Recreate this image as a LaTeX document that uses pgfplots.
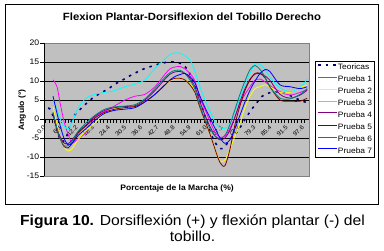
\documentclass[border=0pt]{standalone}
\usepackage{pgfplots}
\pgfplotsset{compat=1.18}
\usepackage{pgfplotstable}
\usepackage{fontspec}
\setmainfont{Liberation Sans}[FakeStretch=1.08]
\definecolor{plotgray}{RGB}{192,192,192}
\definecolor{navyc}{RGB}{0,0,128}
\definecolor{pmag}{RGB}{255,0,255}
\definecolor{pyel}{RGB}{255,255,0}
\definecolor{pcya}{RGB}{0,255,255}
\definecolor{ppur}{RGB}{128,0,128}
\definecolor{pred}{RGB}{128,0,0}
\definecolor{ptea}{RGB}{0,128,128}
\definecolor{pblu}{RGB}{0,0,255}

\pgfplotstableread{
x y
0.9 2.8
1.7 2.6
3.2 0.0
4.7 -4.0
6.2 -6.0
7.7 -5.0
8.8 -2.5
10.0 0.0
11.5 1.5
13.0 2.5
16.0 4.5
17.9 5.6
21.2 7.0
23.6 7.9
26.2 9.2
28.7 10.1
31.1 11.1
34.4 12.3
36.8 13.1
40.1 13.9
42.5 14.4
46.2 15.0
48.9 15.0
51.4 14.5
53.8 12.8
56.4 8.8
59.0 3.3
61.0 -1.0
62.8 -4.5
65.1 -7.3
67.0 -7.8
68.9 -6.1
70.4 -4.8
72.2 -3.5
73.4 -2.3
75.3 -0.1
76.5 1.2
78.3 3.0
79.7 4.2
81.6 5.9
84.1 6.8
86.6 7.2
89.2 7.0
92.3 6.2
95.3 5.2
98.6 4.3
}\teo

\pgfplotstableread{
x p1 p2 p3 p4 p5 p6 p7
2.8 10.3 3.3 5.2 1.5 1.2 1.8 6.0
4.3 8.5 -1.5 2.5 -2.5 -3.0 -2.5 1.5
5.4 4.5 -4.5 0.3 -4.5 -5.0 -5.0 -1.5
6.9 -0.5 -7.3 -1.8 -6.3 -7.2 -7.0 -5.0
8.5 -4.0 -8.4 -2.6 -6.5 -7.6 -7.0 -6.8
10.0 -6.3 -7.8 -0.8 -5.5 -6.4 -5.8 -6.4
12.2 -5.2 -5.5 2.8 -3.5 -3.8 -3.3 -4.4
15.3 -3.5 -3.0 5.5 -1.5 -1.8 -1.0 -2.5
18.7 0.5 -1.0 6.5 0.8 0.3 1.0 -0.3
22.4 2.0 1.5 7.0 2.3 1.8 2.6 1.5
26.2 3.5 2.8 7.5 3.0 2.6 3.2 2.3
30.0 5.0 3.0 8.5 3.3 3.0 3.4 2.6
33.8 6.0 3.5 9.2 3.5 3.3 3.8 3.0
37.5 6.5 4.5 10.3 5.0 4.5 5.3 4.5
41.3 8.5 6.5 13.3 7.5 6.5 8.0 6.5
45.1 11.8 9.0 15.8 10.5 9.0 11.0 9.0
47.0 13.2 10.0 17.0 11.8 10.2 12.2 10.3
48.9 13.7 10.6 17.4 12.4 10.7 12.8 11.2
50.8 13.8 10.7 17.3 12.5 10.7 12.8 11.7
52.6 13.2 10.3 16.6 12.0 10.3 12.0 12.0
54.5 12.0 9.2 15.5 10.8 9.0 10.3 11.2
56.4 10.0 7.5 12.5 8.5 7.0 7.8 9.5
58.3 5.5 3.0 8.5 4.5 3.0 3.5 6.0
60.2 2.5 -0.5 5.0 1.0 -0.5 0.0 3.0
62.1 -0.7 -4.0 2.0 -2.0 -4.0 -2.5 0.3
64.0 -3.5 -8.0 -0.8 -4.5 -8.0 -4.5 -2.5
65.9 -4.8 -11.0 -2.2 -5.5 -11.5 -5.1 -5.0
67.7 -4.5 -10.8 -2.5 -5.0 -12.3 -4.3 -6.4
69.6 -2.5 -8.0 -1.2 -3.0 -8.0 -1.5 -5.5
71.5 0.5 -4.5 2.0 0.5 -1.5 2.5 -2.5
73.4 4.0 -1.1 5.5 4.5 3.5 6.5 1.0
75.3 6.5 3.0 9.0 8.0 7.5 10.0 4.5
77.2 8.5 6.0 12.0 10.5 10.3 13.0 7.6
79.1 10.2 8.0 14.5 11.8 12.0 14.1 10.0
81.0 10.5 8.5 14.3 12.0 12.0 13.0 12.0
82.9 9.8 9.0 13.0 11.3 10.8 11.0 13.0
84.7 8.8 8.5 11.0 10.2 8.5 8.5 12.5
88.5 7.2 7.0 8.2 6.5 5.0 5.5 9.0
92.3 6.3 7.0 7.2 5.5 4.7 5.3 8.5
96.1 7.0 8.3 8.3 6.3 4.7 6.5 8.0
98.8 7.8 8.9 10.5 7.6 5.5 8.0 8.5
}\prb

\begin{document}
\begin{tikzpicture}[x=1pt,y=1pt]
\useasboundingbox (0,0) rectangle (384,250);
\draw[line width=0.9pt] (5,46) rectangle (378,246);
\node[font=\bfseries\fontsize{10.5}{12}\selectfont, anchor=base] at (192,229.3) {Flexion Plantar-Dorsiflexion del Tobillo Derecho};
\begin{axis}[
  at={(44pt,74pt)}, anchor=south west, scale only axis,
  width=265pt, height=133pt,
  xmin=-0.61, xmax=99.47, ymin=-15, ymax=20,
  axis x line=middle, axis y line=left,
  axis line style={-, black, line width=0.8pt},
  axis background/.style={fill=plotgray, draw=gray, line width=0.8pt},
  hide obscured x ticks=false, hide obscured y ticks=false,
  ytick={-10,-5,0,5,10,15}, yticklabels={-10,-5,0,5,10,15},
  extra y ticks={-15,20}, extra y tick labels={-15,20},
  extra y tick style={grid=none},
  ymajorgrids, major grid style={black, line width=0.8pt},
  xtick={0,6.1,12.2,18.3,24.4,30.5,36.6,42.7,48.8,54.9,61.0,67.1,73.2,79.3,85.4,91.5,97.6},
  xticklabels={0.0,6.1,12.2,18.3,24.4,30.5,36.6,42.7,48.8,54.9,61.0,67.1,73.2,79.3,85.4,91.5,97.6},
  minor x tick num=4,
  tick align=outside, major tick length=3.5pt, minor tick length=3.5pt,
  tick style={black, line width=0.6pt},
  yticklabel style={font=\fontsize{8}{9}\selectfont, inner sep=1pt},
  xticklabel style={font=\fontsize{6}{7}\selectfont, rotate=45, anchor=east, inner sep=0.5pt, xshift=-3pt, yshift=-2pt},
  xlabel={Porcentaje de la Marcha (\%)}, ylabel={Angulo (°)},
  every axis x label/.style={at={(axis description cs:0.502,-0.09)}, anchor=center, font=\bfseries\fontsize{7.9}{9}\selectfont},
  every axis y label/.style={at={(axis description cs:-0.083,0.496)}, anchor=center, rotate=90, font=\bfseries\fontsize{7.9}{9}\selectfont},
  legend style={at={(axis description cs:1.0226,0.8647)}, anchor=north west, draw=black, fill=white, line width=0.8pt,
    font=\fontsize{7.8}{8}\selectfont, inner xsep=2pt, inner ysep=2.25pt, row sep=4.5pt,
    nodes={inner sep=0pt, text height=6pt, text depth=1.5pt}},
  legend cell align=left,
  legend image code/.code={\draw[#1] (0pt,2.5pt) -- (19pt,2.5pt);},
]
\addplot[navyc, line width=1.6pt, dash pattern=on 2.5pt off 5pt, smooth] table[x=x,y=y]{\teo};
\addplot[pmag, line width=0.8pt, smooth] table[x=x,y=p1]{\prb};
\addplot[pyel, line width=0.8pt, smooth] table[x=x,y=p2]{\prb};
\addplot[pcya, line width=0.8pt, smooth] table[x=x,y=p3]{\prb};
\addplot[ppur, line width=0.8pt, smooth] table[x=x,y=p4]{\prb};
\addplot[pred, line width=0.8pt, smooth] table[x=x,y=p5]{\prb};
\addplot[ptea, line width=0.8pt, smooth] table[x=x,y=p6]{\prb};
\addplot[pblu, line width=0.8pt, smooth] table[x=x,y=p7]{\prb};
\legend{Teoricas,Prueba 1,Prueba 2,Prueba 3,Prueba 4,Prueba 5,Prueba 6,Prueba 7}
\end{axis}
\node[anchor=base, font=\fontsize{14.5}{16}\selectfont] at (192.5,25) {\textbf{Figura 10.} Dorsiflexión (+) y flexión plantar (-) del};
\node[anchor=base, font=\fontsize{14.5}{16}\selectfont] at (192.5,8.3) {tobillo.};
\end{tikzpicture}
\end{document}
